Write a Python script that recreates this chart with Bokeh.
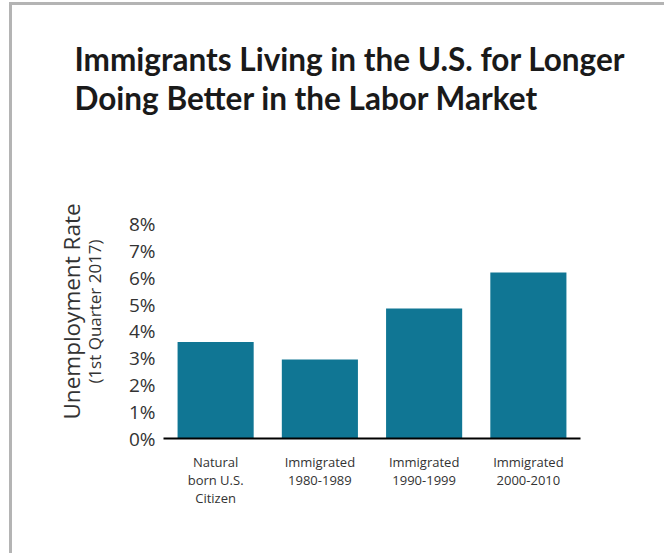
from bokeh.plotting import figure
from bokeh.models import FactorRange, Range1d, FixedTicker, LinearAxis, ColumnDataSource
from bokeh.embed import file_html
from bokeh.resources import INLINE

# ---- data ----
categories = ["Natural\nborn U.S.\nCitizen", "Immigrated\n1980-1989", "Immigrated\n1990-1999", "Immigrated\n2000-2010"]
rates = [3.6, 2.95, 4.85, 6.2]
y_ticks = [0, 1, 2, 3, 4, 5, 6, 7, 8]
y_tick_labels = ["0%", "1%", "2%", "3%", "4%", "5%", "6%", "7%", "8%"]
title_text = "Immigrants Living in the U.S. for Longer\nDoing Better in the Labor Market"
y_label_main = "Unemployment Rate"
y_label_sub = "(1st Quarter 2017)"

BAR = "#107694"
TXT = "#333333"
FONT = "Open Sans"

src = ColumnDataSource(dict(cat=categories, rate=rates))

p = figure(x_range=FactorRange(factors=categories), y_range=Range1d(0, 9.48),
           width=655, height=588, output_backend="svg", toolbar_location=None,
           min_border_left=154, min_border_right=84, min_border_top=219, min_border_bottom=115,
           margin=(-35, 0, 0, 9))
p.styles = {
    "background-image": "linear-gradient(#b4b4b4, #b4b4b4), linear-gradient(#b4b4b4, #b4b4b4)",
    "background-position": "0px 37px, 0px 37px",
    "background-size": "100% 3px, 3px 100%",
    "background-repeat": "no-repeat, no-repeat",
}
p.outline_line_color = None
p.background_fill_color = "white"
p.border_fill_alpha = 0
p.grid.visible = False

p.vbar(x="cat", top="rate", width=0.73, source=src, fill_color=BAR, line_color=None)

# title
p.title.text = title_text
p.title.text_font = "Lato"
p.title.text_font_style = "bold"
p.title.text_font_size = "31.5px"
p.title.text_color = "#1a1a1a"
p.title.align = "left"
p.title.offset = -89
p.title.standoff = 134
p.title.text_line_height = 1.05

# y axis (ticks)
ya = p.yaxis[0]
ya.ticker = FixedTicker(ticks=y_ticks)
ya.major_label_overrides = {t: l for t, l in zip(y_ticks, y_tick_labels)}
ya.major_label_text_font = FONT
ya.major_label_text_font_size = "19px"
ya.major_label_text_color = TXT
ya.major_tick_line_color = None
ya.major_tick_out = 0
ya.major_tick_in = 0
ya.minor_tick_line_color = None
ya.minor_tick_out = 0
ya.axis_line_color = None
ya.major_label_standoff = 8
ya.axis_label = y_label_sub
ya.axis_label_text_font = FONT
ya.axis_label_text_font_size = "17px"
ya.axis_label_text_font_style = "normal"
ya.axis_label_text_color = TXT
ya.axis_label_standoff = 20

ya2 = LinearAxis(axis_label=y_label_main, ticker=FixedTicker(ticks=[]),
                 major_tick_line_color=None, minor_tick_line_color=None,
                 major_tick_out=0, major_tick_in=0, minor_tick_out=0, major_label_standoff=0,
                 axis_line_color=None, major_label_text_font_size="0px")
ya2.axis_label_text_font = FONT
ya2.axis_label_text_font_size = "22.5px"
ya2.axis_label_text_font_style = "normal"
ya2.axis_label_text_color = TXT
ya2.axis_label_standoff = -7
p.add_layout(ya2, "left")

# x axis
xa = p.xaxis[0]
xa.axis_line_color = "black"
xa.axis_line_width = 2
xa.major_tick_line_color = None
xa.major_tick_out = 0
xa.major_tick_in = 0
xa.minor_tick_line_color = None
xa.major_label_text_font = FONT
xa.major_label_text_font_size = "13px"
xa.major_label_text_color = TXT
xa.major_label_text_line_height = 1.0
xa.major_label_standoff = 14
xa.major_label_orientation = "horizontal"

open("out.html", "w").write(file_html(p, INLINE))
